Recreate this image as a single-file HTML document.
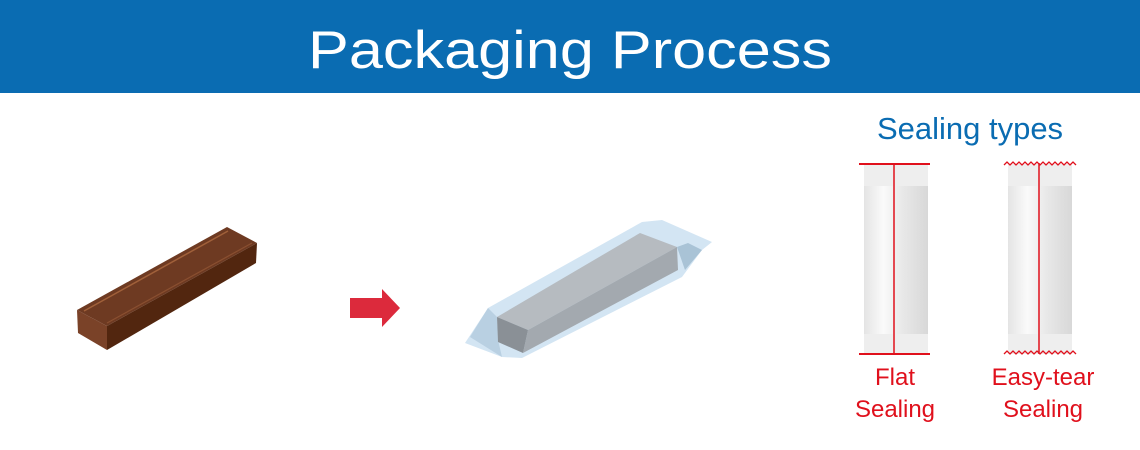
<!DOCTYPE html>
<html><head><meta charset="utf-8"><style>html,body{margin:0;padding:0;background:#fff;}svg{display:block;}</style></head>
<body>
<svg width="1140" height="450" viewBox="0 0 1140 450" xmlns="http://www.w3.org/2000/svg" font-family="Liberation Sans, sans-serif">
<defs>
<linearGradient id="pouch" x1="0" y1="0" x2="1" y2="0"><stop offset="0" stop-color="#e4e4e4"/><stop offset="0.3" stop-color="#fafafa"/><stop offset="0.6" stop-color="#e8e8e8"/><stop offset="1" stop-color="#d8d8d8"/></linearGradient>
</defs>
<rect x="0" y="0" width="1140" height="93" fill="#0a6cb2"/>
<text x="308" y="68" font-size="53" fill="#fff" textLength="524" lengthAdjust="spacingAndGlyphs">Packaging Process</text>

<!-- chocolate bar -->
<polygon points="77,310 227,227 257,243 107,326" fill="#6e3a22"/>
<polygon points="107,326 257,243 256,263 107,350" fill="#52260f"/>
<polygon points="77,310 107,326 107,350 78,333" fill="#7a4228"/>
<line x1="84" y1="311" x2="228" y2="231" stroke="#a0603a" stroke-width="1.5"/>
<line x1="107" y1="323" x2="252" y2="243" stroke="#8a4f30" stroke-width="1.2"/>

<!-- arrow -->
<polygon points="350,298 382,298 382,289 400,308 382,327 382,318 350,318" fill="#dc2a3c"/>

<!-- wrapped bar -->
<polygon points="465,343 488,308 642,222 662,220 712,242 702,250 682,277 522,358 502,357" fill="#d3e5f3"/>
<polygon points="677,247 688,243 702,250 685,270" fill="#a9c3d6"/>
<polygon points="470,337 488,308 497,317 498,340 502,357" fill="#b9d0e2"/>
<polygon points="497,317 640,233 677,247 528,330" fill="#b6bbc0"/>
<polygon points="528,330 677,247 678,270 523,353" fill="#a3a9af"/>
<polygon points="497,317 528,330 523,353 498,342" fill="#8a9096"/>

<!-- sealing types -->
<text x="970" y="139" font-size="31" fill="#0a6cb2" text-anchor="middle">Sealing types</text>
<rect x="864" y="164" width="64" height="190" fill="url(#pouch)"/>
<rect x="1008" y="164" width="64" height="190" fill="url(#pouch)"/>
<rect x="864" y="164" width="64" height="22" fill="#eeeeee"/>
<rect x="864" y="334" width="64" height="20" fill="#eeeeee"/>
<rect x="1008" y="164" width="64" height="22" fill="#eeeeee"/>
<rect x="1008" y="334" width="64" height="20" fill="#eeeeee"/>
<line x1="859" y1="164" x2="930" y2="164" stroke="#e0101c" stroke-width="2"/>
<line x1="859" y1="354" x2="930" y2="354" stroke="#e0101c" stroke-width="2"/>
<line x1="894" y1="164" x2="894" y2="354" stroke="#e0101c" stroke-width="1.5"/>
<polyline points="1004,165 1007,162 1010,165 1013,162 1016,165 1019,162 1022,165 1025,162 1028,165 1031,162 1034,165 1037,162 1040,165 1043,162 1046,165 1049,162 1052,165 1055,162 1058,165 1061,162 1064,165 1067,162 1070,165 1073,162 1076,165" fill="none" stroke="#e0101c" stroke-width="1.3"/>
<polyline points="1004,354 1007,351 1010,354 1013,351 1016,354 1019,351 1022,354 1025,351 1028,354 1031,351 1034,354 1037,351 1040,354 1043,351 1046,354 1049,351 1052,354 1055,351 1058,354 1061,351 1064,354 1067,351 1070,354 1073,351 1076,354" fill="none" stroke="#e0101c" stroke-width="1.3"/>
<line x1="1039" y1="163" x2="1039" y2="354" stroke="#e0101c" stroke-width="1.5"/>
<g font-size="24" fill="#e0101c" text-anchor="middle">
<text x="895" y="385">Flat</text>
<text x="895" y="417">Sealing</text>
<text x="1043" y="385">Easy-tear</text>
<text x="1043" y="417">Sealing</text>
</g>
</svg>
</body></html>
